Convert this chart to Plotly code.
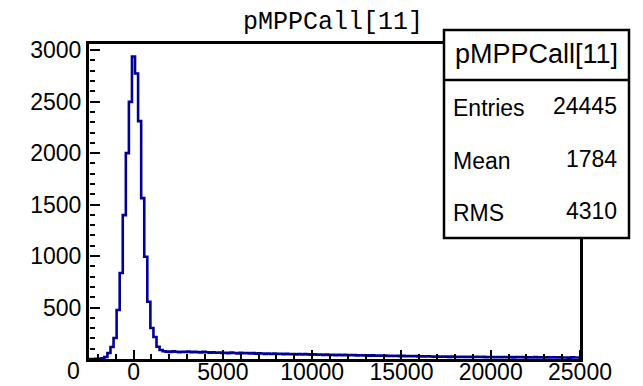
import numpy as np
import plotly.graph_objects as go

# ---- data ----
XMIN, XMAX, NBINS = -2500.0, 25000.0, 160
counts_peak = [0, 0, 1, 3, 8, 19, 58, 117, 204, 476, 835, 1398, 2000, 2498, 2939,
               2774, 2311, 1563, 993, 556, 301, 214, 119, 87, 75]
counts_tail_a = [72, 68, 74, 70, 66, 71, 69, 73, 65, 70, 67, 64, 69, 66, 62, 65]
counts_tail_b = [60, 63, 58, 61, 57, 62, 59, 55, 60, 56, 58, 54, 57, 52, 55]
counts_tail_c = [53, 50, 54, 49, 52, 48, 51, 47, 50, 46, 49, 45, 48, 44, 47]
counts_tail_d = [45, 42, 46, 41, 44, 40, 43, 39, 42, 38, 41, 37, 40, 36, 39, 38, 35, 37,
                 34, 36, 33, 35, 32, 34, 31, 33, 30, 32, 29, 31]
counts_tail_e = [28, 30, 27, 29, 26, 28, 25, 27, 24, 26, 25, 23, 25, 22, 24, 23, 21, 23,
                 22, 20, 22, 21, 19, 21, 20]
counts_tail_f = [22, 19, 21, 18, 20, 19, 17, 20, 18, 19, 17, 18, 16, 19, 17, 18, 16, 17,
                 15, 18, 16, 17, 15, 16, 14, 17, 15, 16, 14, 15, 13, 16, 14, 15]
hist_name = "pMPPCall[11]"
stat_labels = ["Entries", "Mean", "RMS"]
stat_values = ["24445", "1784", "4310"]
x_tickvals = [0, 5000, 10000, 15000, 20000, 25000]
x_ticktext = ["0", "5000", "10000", "15000", "20000", "25000"]
y_tickvals = [0, 500, 1000, 1500, 2000, 2500, 3000]
y_ticktext = ["", "500", "1000", "1500", "2000", "2500", "3000"]
YMAX = 3060

counts = (counts_peak + counts_tail_a + counts_tail_b + counts_tail_c +
          counts_tail_d + counts_tail_e + counts_tail_f)
edges = np.linspace(XMIN, XMAX, NBINS + 1)
xs = [edges[0]] + list(edges[:-1]) + [edges[-1], edges[-1]]
ys = [0] + counts + [counts[-1], 0]

fig = go.Figure()
fig.add_trace(go.Scatter(x=xs, y=ys, mode="lines", line=dict(color="#000099", width=2.6, shape="hv"),
                         hoverinfo="skip", showlegend=False))
# invisible copy bound to the overlay axes that carry the inward-pointing ticks
fig.add_trace(go.Scatter(x=xs, y=ys, mode="lines", line=dict(width=0), opacity=0,
                         xaxis="x2", yaxis="y2", hoverinfo="skip", showlegend=False))

# page has an 8px body margin: the figure starts at page (8, 8)
OFF = 8
W, H = 643 - OFF, 386 - OFF
L, R, T, B = 89 - OFF, 643 - 580, 44 - OFF, 386 - 359
pw, ph = W - L - R, H - T - B


def px(xp):
    return (xp - OFF - L) / pw


def py(yp):
    return (H - B - (yp - OFF)) / ph


FONT = "Liberation Sans"
fig.update_layout(
    width=W, height=H, margin=dict(l=L, r=R, t=T, b=B, pad=0, autoexpand=False),
    paper_bgcolor="white", plot_bgcolor="white", showlegend=False,
    xaxis=dict(range=[XMIN, XMAX], showgrid=False, zeroline=False, automargin=False,
               showline=True, linecolor="black", linewidth=3, mirror=True,
               tickmode="array", tickvals=x_tickvals, ticktext=x_ticktext, ticks="",
               tickfont=dict(family=FONT, size=23, color="black"), ticklabelstandoff=-10),
    yaxis=dict(range=[0, YMAX], showgrid=False, zeroline=False, automargin=False,
               showline=True, linecolor="black", linewidth=3, mirror=True,
               tickmode="array", tickvals=y_tickvals, ticktext=y_ticktext, ticks="",
               tickfont=dict(family=FONT, size=23, color="black"), ticklabelstandoff=0),
    # overlay axes: ticks "outside" of an axis placed on the opposite edge point into the frame
    xaxis2=dict(range=[XMIN, XMAX], overlaying="x", side="top", anchor="free", position=0,
                showgrid=False, zeroline=False, showline=False, showticklabels=False,
                automargin=False, tickmode="array", tickvals=x_tickvals,
                ticks="outside", ticklen=9, tickwidth=2, tickcolor="black",
                minor=dict(tickmode="array", tickvals=list(range(-2000, 25001, 1000)),
                           ticks="outside", ticklen=5, tickwidth=2, tickcolor="black")),
    yaxis2=dict(range=[0, YMAX], overlaying="y", side="right", anchor="free", position=0,
                showgrid=False, zeroline=False, showline=False, showticklabels=False,
                automargin=False, tickmode="array", tickvals=y_tickvals,
                ticks="outside", ticklen=10, tickwidth=2, tickcolor="black",
                minor=dict(tickmode="array", tickvals=list(range(100, 3001, 100)),
                           ticks="outside", ticklen=5, tickwidth=2, tickcolor="black")),
)

# y "0" label (shifted below the axis as in the original)
fig.add_annotation(x=px(82), y=py(371), xref="paper", yref="paper", text="0",
                   showarrow=False, xanchor="right", yanchor="middle",
                   font=dict(family=FONT, size=23, color="black"))

# title
fig.add_annotation(x=px(333), y=py(22), xref="paper", yref="paper", text=hist_name,
                   showarrow=False, xanchor="center", yanchor="middle",
                   font=dict(family="Liberation Mono", size=25, color="black"))

# stats box
bx0, bx1, by0, by1, bsep = 444, 629, 238, 30, 80
fig.add_shape(type="rect", xref="paper", yref="paper", layer="above",
              x0=px(bx0), x1=px(bx1), y0=py(by0), y1=py(by1),
              fillcolor="white", line=dict(color="black", width=2.5))
fig.add_shape(type="line", xref="paper", yref="paper", layer="above",
              x0=px(bx0), x1=px(bx1), y0=py(bsep), y1=py(bsep),
              line=dict(color="black", width=2.5))
fig.add_annotation(x=px((bx0 + bx1) / 2), y=py(54), xref="paper", yref="paper", text=hist_name,
                   showarrow=False, xanchor="center", yanchor="middle",
                   font=dict(family=FONT, size=27, color="black"))
row_y = [108, 161, 213]
for lab, val, ry in zip(stat_labels, stat_values, row_y):
    fig.add_annotation(x=px(451), y=py(ry), xref="paper", yref="paper", text=lab,
                       showarrow=False, xanchor="left", yanchor="middle",
                       font=dict(family=FONT, size=23, color="black"))
    fig.add_annotation(x=px(619), y=py(ry - 2), xref="paper", yref="paper", text=val,
                       showarrow=False, xanchor="right", yanchor="middle",
                       font=dict(family=FONT, size=23, color="black"))

fig.write_html("out.html")
